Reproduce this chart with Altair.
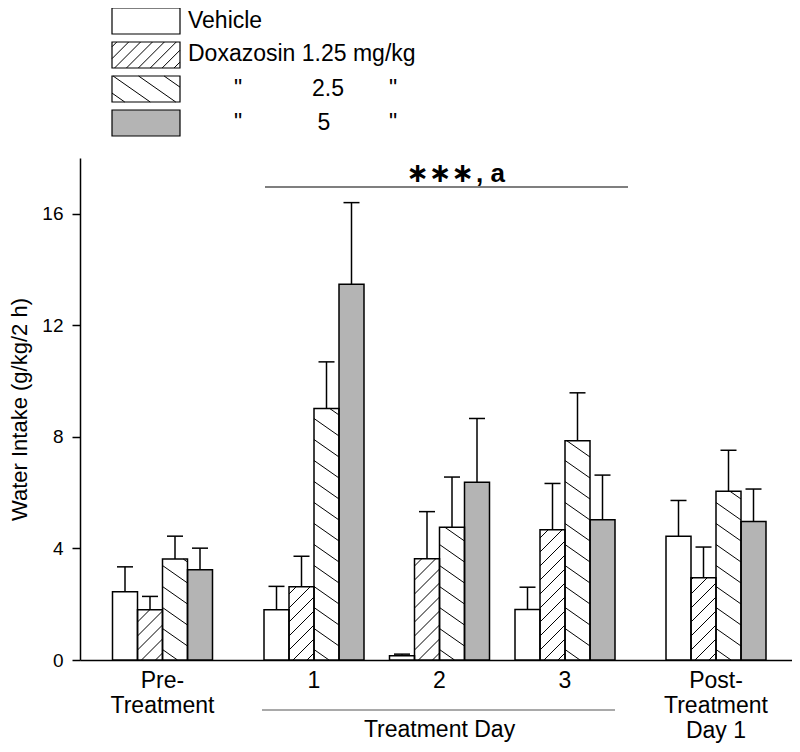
import altair as alt
import pandas as pd

# ---------------- data ----------------
groups = ["Pre", "Day1", "Day2", "Day3", "Post"]
group_labels = ["Pre-\nTreatment", "1", "2", "3", "Post-\nTreatment\nDay 1"]
series = ["Vehicle", "Doxazosin 1.25 mg/kg", "2.5", "5"]

vehicle = [2.45, 1.80, 0.15, 1.81, 4.44]
vehicle_err = [0.89, 0.84, 0.06, 0.80, 1.28]
dox125 = [1.80, 2.63, 3.63, 4.67, 2.95]
dox125_err = [0.48, 1.09, 1.69, 1.66, 1.10]
dox25 = [3.62, 9.02, 4.76, 7.86, 6.05]
dox25_err = [0.82, 1.67, 1.80, 1.72, 1.47]
dox5 = [3.24, 13.47, 6.37, 5.03, 4.97]
dox5_err = [0.77, 2.93, 2.29, 1.60, 1.16]

y_ticks = [0, 4, 8, 12, 16]

# ---------------- layout ----------------
W, H = 712, 502
Y_MAX = 18
PPU = H / Y_MAX
GROUP_POS = [82.5, 234, 359.5, 485, 636]
BAR_W = 25
OFFSETS = [-37.5, -12.5, 12.5, 37.5]
FILLS = ["white", "white", "white", "#b4b4b4"]
HATCH = [None, (1.0, 14.0), (-0.7, 21.0), None]  # (slope, vertical spacing in px)
FONT = "Liberation Sans"
FS = 23


def py(p):
    """plot pixel y (from top) -> data value"""
    return (H - p) / PPU


def hatch_segments(w, h, slope, spacing):
    segs = []
    cmin = min(0.0, -slope * w)
    cmax = max(h, h - slope * w)
    c = cmin + spacing * 0.5
    while c < cmax:
        u0 = -c / slope
        u1 = (h - c) / slope
        lo = max(0.0, min(u0, u1))
        hi = min(w, max(u0, u1))
        if hi - lo > 0.5:
            segs.append((lo, slope * lo + c, hi, slope * hi + c))
        c += spacing
    return segs


values = [vehicle, dox125, dox25, dox5]
errors = [vehicle_err, dox125_err, dox25_err, dox5_err]

bar_rows, hatch_rows, err_rows = [], [], []
for si, s in enumerate(series):
    for gi, g in enumerate(groups):
        c = GROUP_POS[gi] + OFFSETS[si]
        x0, x1 = c - BAR_W / 2, c + BAR_W / 2
        v = values[si][gi]
        e = errors[si][gi]
        bar_rows.append({"x": x0, "x2": x1, "y": 0, "y2": v, "fill": FILLS[si], "s": s})
        err_rows.append({"xc": c, "xl": c - 8, "xr": c + 8, "y": v, "y2": v + e})
        if HATCH[si]:
            slope, sp = HATCH[si]
            for (u0, v0, u1, v1) in hatch_segments(BAR_W, v * PPU, slope, sp):
                hatch_rows.append({"x": x0 + u0, "x2": x0 + u1, "y": v0 / PPU, "y2": v1 / PPU})

# legend (placed above the plot, in data units)
LEG_X0, LEG_X1 = 32, 100
LEG_TOPS = [-150, -116, -82, -48]
LEG_H = 26
leg_box_rows, leg_hatch_rows = [], []
for si, top in enumerate(LEG_TOPS):
    bottom = top + LEG_H
    leg_box_rows.append({"x": LEG_X0, "x2": LEG_X1, "y": py(bottom), "y2": py(top), "fill": FILLS[si]})
    if HATCH[si]:
        slope, sp = HATCH[si]
        for (u0, v0, u1, v1) in hatch_segments(LEG_X1 - LEG_X0, LEG_H, slope, sp * 0.85):
            leg_hatch_rows.append({"x": LEG_X0 + u0, "x2": LEG_X0 + u1,
                                   "y": py(bottom - v0), "y2": py(bottom - v1)})

TXT_Y = [LEG_TOPS[0] + 13, LEG_TOPS[1] + 12, LEG_TOPS[2] + 13, LEG_TOPS[3] + 13]
leg_text_left = pd.DataFrame([
    {"x": 108, "y": py(TXT_Y[0]), "t": "Vehicle"},
    {"x": 108, "y": py(TXT_Y[1]), "t": "Doxazosin 1.25 mg/kg"},
])
leg_text_center = pd.DataFrame([
    {"x": 158, "y": py(TXT_Y[2]), "t": '"'},
    {"x": 248, "y": py(TXT_Y[2]), "t": "2.5"},
    {"x": 313, "y": py(TXT_Y[2]), "t": '"'},
    {"x": 158, "y": py(TXT_Y[3]), "t": '"'},
    {"x": 244, "y": py(TXT_Y[3]), "t": "5"},
    {"x": 313, "y": py(TXT_Y[3]), "t": '"'},
])

bars = pd.DataFrame(bar_rows)
hatch = pd.DataFrame(hatch_rows)
errs = pd.DataFrame(err_rows)
leg_boxes = pd.DataFrame(leg_box_rows)
leg_hatch = pd.DataFrame(leg_hatch_rows)
labels = pd.DataFrame({"x": GROUP_POS, "t": group_labels})

# ---------------- encodings ----------------
xscale = alt.Scale(domain=[0, W], nice=False, zero=False)
yscale = alt.Scale(domain=[0, Y_MAX], nice=False)
xaxis = alt.Axis(labels=False, ticks=False, title=None, grid=False,
                 domainColor="black", domainWidth=1.5)
yaxis = alt.Axis(values=y_ticks, title="Water Intake (g/kg/2 h)", grid=False,
                 tickSize=8, tickWidth=1.5, tickColor="black", domainColor="black",
                 domainWidth=1.5, labelFontSize=19, labelFont=FONT, labelColor="black",
                 labelPadding=9, titleFontSize=22, titleFont=FONT, titleFontWeight="normal",
                 titleColor="black", titlePadding=10)


def X(f="x"):
    return alt.X(f"{f}:Q", scale=xscale, axis=xaxis)


def Y(f="y"):
    return alt.Y(f"{f}:Q", scale=yscale, axis=yaxis)


bar_fill = alt.Chart(bars).mark_rect(strokeWidth=0).encode(
    x=X("x"), x2="x2", y=Y("y"), y2="y2", fill=alt.Fill("fill:N", scale=None))
bar_hatch = alt.Chart(hatch).mark_rule(color="black", strokeWidth=1).encode(
    x=X("x"), x2="x2", y=Y("y"), y2="y2")
bar_outline = alt.Chart(bars).mark_rect(fillOpacity=0, stroke="black", strokeWidth=1.5).encode(
    x=X("x"), x2="x2", y=Y("y"), y2="y2")
err_v = alt.Chart(errs).mark_rule(color="black", strokeWidth=1.5).encode(
    x=X("xc"), y=Y("y"), y2="y2")
err_cap = alt.Chart(errs).mark_rule(color="black", strokeWidth=1.5).encode(
    x=X("xl"), x2="xr", y=Y("y2"))

lg_fill = alt.Chart(leg_boxes).mark_rect(strokeWidth=0).encode(
    x=X("x"), x2="x2", y=Y("y"), y2="y2", fill=alt.Fill("fill:N", scale=None))
lg_hatch = alt.Chart(leg_hatch).mark_rule(color="black", strokeWidth=1).encode(
    x=X("x"), x2="x2", y=Y("y"), y2="y2")
lg_outline = alt.Chart(leg_boxes).mark_rect(fillOpacity=0, stroke="black", strokeWidth=1.2).encode(
    x=X("x"), x2="x2", y=Y("y"), y2="y2")
lg_text1 = alt.Chart(leg_text_left).mark_text(font=FONT, fontSize=FS, baseline="middle",
                                              align="left", color="black").encode(
    x=X("x"), y=Y("y"), text="t:N")
lg_text2 = alt.Chart(leg_text_center).mark_text(font=FONT, fontSize=FS, baseline="middle",
                                                align="center", color="black").encode(
    x=X("x"), y=Y("y"), text="t:N")

xlabels = alt.Chart(labels).mark_text(font=FONT, fontSize=FS, baseline="alphabetic",
                                      lineBreak="\n", lineHeight=25, color="black").encode(
    x=X("x"), y=alt.value(530), text="t:N")

tday = pd.DataFrame({"x": [GROUP_POS[1] - 52], "x2": [GROUP_POS[3] + 50], "xm": [GROUP_POS[2]],
                     "t": ["Treatment Day"]})
tday_line = alt.Chart(tday).mark_rule(color="#555555", strokeWidth=1.2).encode(
    x=X("x"), x2="x2", y=alt.value(552))
tday_text = alt.Chart(tday).mark_text(font=FONT, fontSize=FS, baseline="alphabetic", color="black").encode(
    x=X("xm"), y=alt.value(579), text="t:N")

annot = pd.DataFrame({"x": [185], "x2": [548], "y": [py(29)], "xt": [394],
                      "s1": ["\u2217\u2217\u2217"], "s2": [", a"]})
annot_line = alt.Chart(annot).mark_rule(color="black", strokeWidth=1.2).encode(
    x=X("x"), x2="x2", y=Y("y"))
annot_t1 = alt.Chart(annot).mark_text(font="DejaVu Sans", fontSize=27, fontWeight="bold",
                                      align="right", baseline="alphabetic", color="black").encode(
    x=X("xt"), y=alt.value(24), text="s1:N")
annot_t2 = alt.Chart(annot).mark_text(font=FONT, fontSize=26, fontWeight="bold",
                                      align="left", baseline="alphabetic", color="black", dx=2).encode(
    x=X("xt"), y=alt.value(24), text="s2:N")

chart = alt.layer(
    bar_fill, bar_hatch, bar_outline, err_v, err_cap,
    lg_fill, lg_hatch, lg_outline, lg_text1, lg_text2,
    xlabels, tday_line, tday_text,
    annot_line, annot_t1, annot_t2,
).properties(
    width=W, height=H,
    padding={"left": 72, "top": 150, "right": 0, "bottom": 84},
    autosize=alt.AutoSizeParams(type="none"),
    background="white",
).configure_view(stroke=None)

chart.save("out.html", embed_options={"renderer": "svg", "actions": False})
